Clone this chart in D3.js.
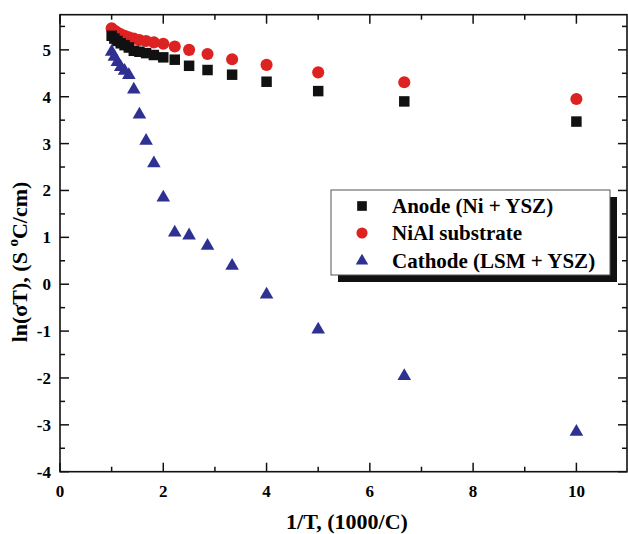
<!DOCTYPE html>
<html><head><meta charset="utf-8">
<script src="https://cdn.jsdelivr.net/npm/d3@7"></script>
<style>body{margin:0;background:#fff}svg{display:block}text{font-family:"Liberation Serif","Times New Roman",serif;font-weight:bold}</style>
</head><body><svg id="c" width="628" height="534"></svg>
<script>
const invT = [1.0, 1.053, 1.111, 1.176, 1.25, 1.333, 1.429, 1.538, 1.667, 1.818, 2.0, 2.222, 2.5, 2.857, 3.333, 4.0, 5.0, 6.667, 10.0];
const anode = [5.30, 5.24, 5.19, 5.14, 5.10, 5.05, 4.98, 4.96, 4.93, 4.89, 4.84, 4.79, 4.66, 4.57, 4.47, 4.32, 4.12, 3.90, 3.47];
const nial = [5.46, 5.41, 5.37, 5.33, 5.30, 5.27, 5.24, 5.21, 5.19, 5.16, 5.13, 5.07, 5.00, 4.91, 4.80, 4.68, 4.52, 4.31, 3.95];
const cathode = [4.96, 4.85, 4.74, 4.63, 4.55, 4.46, 4.15, 3.62, 3.06, 2.58, 1.85, 1.10, 1.04, 0.82, 0.39, -0.22, -0.97, -1.96, -3.15];
const seriesNames = ["Anode (Ni + YSZ)", "NiAl substrate", "Cathode (LSM + YSZ)"];
const seriesColors = ["#111111", "#dd2222", "#2e3192"];
const xTicks = [0, 2, 4, 6, 8, 10];
const yTicks = [-4, -3, -2, -1, 0, 1, 2, 3, 4, 5];

const svg = d3.select("#c");
const L = 60, R = 627, T = 14.7, B = 471.7;
const x = d3.scaleLinear().domain([0, 10.98]).range([L, R]);
const y = d3.scaleLinear().domain([-4, 5.75]).range([B, T]);

svg.append("rect").attr("x", L).attr("y", T).attr("width", R - L).attr("height", B - T)
  .attr("fill", "none").attr("stroke", "#111").attr("stroke-width", 1.6);

const xMinor = d3.range(1, 11, 2);
const yMinor = d3.range(-3.5, 5.6, 1);
const g = svg.append("g");
function tickLines(vals, len, horiz) {
  vals.forEach(v => {
    if (horiz) {
      const px = x(v);
      g.append("line").attr("x1", px).attr("x2", px).attr("y1", B).attr("y2", B - len).attr("stroke", "#111").attr("stroke-width", 1.5);
      g.append("line").attr("x1", px).attr("x2", px).attr("y1", T).attr("y2", T + len).attr("stroke", "#111").attr("stroke-width", 1.5);
    } else {
      const py = y(v);
      g.append("line").attr("x1", L).attr("x2", L + len).attr("y1", py).attr("y2", py).attr("stroke", "#111").attr("stroke-width", 1.5);
      g.append("line").attr("x1", R).attr("x2", R - len).attr("y1", py).attr("y2", py).attr("stroke", "#111").attr("stroke-width", 1.5);
    }
  });
}
tickLines(xTicks, 9, true);
tickLines(xMinor, 5, true);
tickLines(yTicks, 9, false);
tickLines(yMinor, 5, false);

svg.append("g").selectAll("text").data(xTicks).join("text")
  .attr("x", d => x(d)).attr("y", 497).attr("text-anchor", "middle").attr("font-size", 17).text(d => d);
svg.append("g").selectAll("text").data(yTicks).join("text")
  .attr("x", 51).attr("y", d => y(d) + 6).attr("text-anchor", "end").attr("font-size", 17).text(d => d);

svg.append("text").attr("x", 347).attr("y", 529).attr("text-anchor", "middle").attr("font-size", 22).text("1/T, (1000/C)");
const yt = svg.append("text").attr("transform", "translate(27,262) rotate(-90)").attr("text-anchor", "middle").attr("font-size", 22);
yt.append("tspan").text("ln(σT), (S ");
yt.append("tspan").attr("dy", -9).attr("font-size", 15).text("o");
yt.append("tspan").attr("dy", 9).text("C/cm)");

const data = [anode, nial, cathode];
const shapes = [d3.symbolSquare, d3.symbolCircle, d3.symbolTriangle];
const sizes = [110, 115, 80];
const plot = svg.append("g");
[1, 0, 2].forEach(i => {
  plot.append("g").selectAll("path").data(invT.map((v, j) => [v, data[i][j]])).join("path")
    .attr("transform", d => `translate(${x(d[0])},${y(d[1])})`)
    .attr("d", d3.symbol().type(shapes[i]).size(sizes[i]))
    .attr("fill", seriesColors[i]);
});

const lg = svg.append("g");
lg.append("rect").attr("x", 338).attr("y", 197).attr("width", 279).attr("height", 85).attr("fill", "#111");
lg.append("rect").attr("x", 331).attr("y", 190).attr("width", 279).attr("height", 85).attr("fill", "#fff").attr("stroke", "#555").attr("stroke-width", 1);
const rowY = [206, 233, 261];
seriesNames.forEach((n, i) => {
  lg.append("path").attr("transform", `translate(362,${rowY[i]})`)
    .attr("d", d3.symbol().type(shapes[i]).size(sizes[i] * 0.85)).attr("fill", seriesColors[i]);
  lg.append("text").attr("x", 392).attr("y", rowY[i] + 7).attr("font-size", 21).text(n);
});
</script></body></html>
